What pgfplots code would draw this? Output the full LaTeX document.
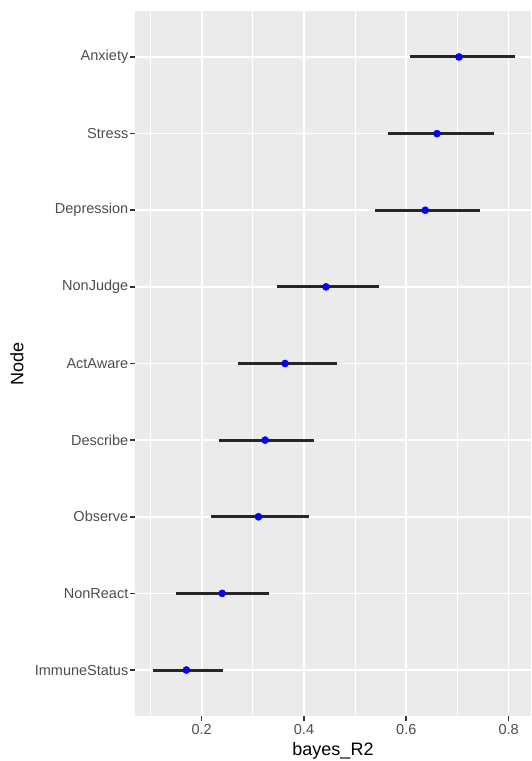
\documentclass[border=0pt]{standalone}
\usepackage{fontspec}
\setmainfont{Liberation Sans}
\usepackage{pgfplots}
\usepackage{pgfplotstable}
\pgfplotsset{compat=1.18}
\definecolor{panelbg}{HTML}{EBEBEB}
\definecolor{ticklab}{HTML}{4D4D4D}
\definecolor{tickcol}{HTML}{333333}
\definecolor{barcol}{HTML}{262626}
\pgfplotstableread{
y lo mid hi
9 0.608 0.703 0.812
8 0.564 0.660 0.772
7 0.539 0.637 0.745
6 0.347 0.443 0.547
5 0.270 0.363 0.465
4 0.233 0.324 0.420
3 0.219 0.311 0.410
2 0.150 0.240 0.332
1 0.104 0.170 0.241
}\datatable
\begin{document}
\begin{tikzpicture}[x=1pt,y=1pt]
\path (0,0) rectangle (531,761);
\begin{axis}[
  at={(135pt,45pt)}, anchor=south west,
  scale only axis, width=396pt, height=705pt,
  xmin=0.0696, xmax=0.8438, ymin=0.4, ymax=9.6,
  axis background/.style={fill=panelbg},
  axis line style={draw=none},
  xtick={0.2,0.4,0.6,0.8},
  xticklabels={0.2,0.4,0.6,0.8},
  minor xtick={0.1,0.3,0.5,0.7},
  ytick={1,...,9},
  yticklabels={ImmuneStatus,NonReact,Observe,Describe,ActAware,NonJudge,Depression,Stress,Anxiety},
  tick align=outside,
  major tick length=4.5pt, minor tick length=0pt,
  tick style={tickcol, line width=1.6pt},
  xtick pos=bottom, ytick pos=left,
  grid=both,
  major grid style={white, line width=1.7pt},
  minor grid style={white, line width=0.85pt},
  ticklabel style={font=\fontsize{14.5}{16}\selectfont, text=ticklab},
  /pgf/number format/assume math mode=true,
  xticklabel style={inner sep=0pt, yshift=-4pt},
  yticklabel style={inner sep=0pt, xshift=-2pt},
  xlabel={bayes\_R2}, ylabel={Node},
  label style={font=\fontsize{18}{20}\selectfont, text=black, inner sep=0pt},
  xlabel style={at={(axis description cs:0.5,0)}, anchor=center, yshift=-35pt},
  ylabel style={at={(axis description cs:0,0.5)}, anchor=center, yshift=118pt},
  clip=false,
]
\addplot[draw=none, mark=none, error bars/.cd, x dir=both, x explicit,
  error mark=none, error bar style={barcol, line width=3pt}]
  table[x=mid, y=y, x error plus expr=\thisrow{hi}-\thisrow{mid}, x error minus expr=\thisrow{mid}-\thisrow{lo}] {\datatable};
\addplot[only marks, mark=*, mark size=3.6pt, mark options={fill=blue, draw=blue}]
  table[x=mid, y=y] {\datatable};
\end{axis}
\end{tikzpicture}
\end{document}
